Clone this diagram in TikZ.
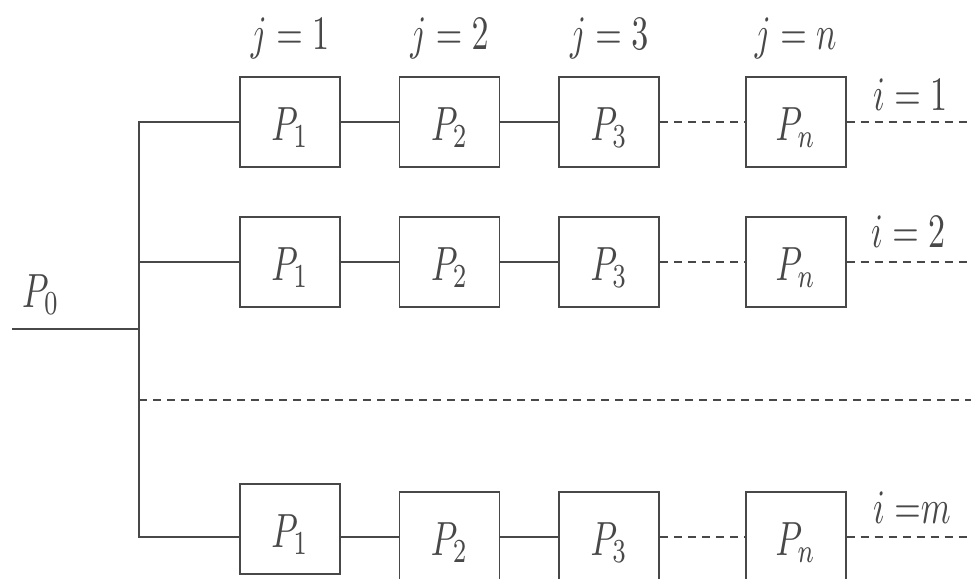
\documentclass[tikz,border=0pt]{standalone}
\usepackage{amsmath}
\usetikzlibrary{positioning}
\definecolor{ink}{RGB}{72,72,72}
\newcommand{\nar}[1]{\scalebox{3.4}[4.8]{#1}}

\begin{document}
\begin{tikzpicture}[x=1pt, y=-1pt,
        box/.style={draw=ink, line width=1.6pt, minimum width=100pt, minimum height=90pt, inner sep=0pt, text=ink, text height=40pt, text depth=4pt},
        lbl/.style={text=ink, inner sep=0pt},
        conn/.style={draw=ink, line width=1.6pt},
        gap/.style={conn, dash pattern=on 8pt off 6pt}]
        \useasboundingbox (0,0) rectangle (971,578);

        % nodes %
        \node[box] (a1) at (290,122) {\nar{$P_1$}};
        \node[box, right=58pt of a1] (a2) {\nar{$P_2$}};
        \node[box, right=58pt of a2] (a3) {\nar{$P_3$}};
        \node[box, right=85pt of a3] (a4) {\nar{$P_n$}};

        \node[box] (b1) at (290,262) {\nar{$P_1$}};
        \node[box, right=58pt of b1] (b2) {\nar{$P_2$}};
        \node[box, right=58pt of b2] (b3) {\nar{$P_3$}};
        \node[box, right=85pt of b3] (b4) {\nar{$P_n$}};

        \node[box] (c1) at (290,529) {\nar{$P_1$}};
        \node[box] (c2) at (449.5,537) {\nar{$P_2$}};
        \node[box, right=58pt of c2] (c3) {\nar{$P_3$}};
        \node[box, right=85pt of c3] (c4) {\nar{$P_n$}};

        % labels %
        \node[lbl, above=17pt of a1] (j1) {\nar{$j = 1$}};
        \node[lbl, above=17pt of a2] (j2) {\nar{$j = 2$}};
        \node[lbl, above=17pt of a3] (j3) {\nar{$j = 3$}};
        \node[lbl, above=17pt of a4] (jn) {\nar{$j = n$}};
        \node[lbl, anchor=base west] (i1) at (873,110) {\nar{$i = 1$}};
        \node[lbl, anchor=base west] (i2) at (871,247) {\nar{$i = 2$}};
        \node[lbl, anchor=base west] (im) at (873,523) {\nar{$i\mskip\thickmuskip{=}m$}};
        \node[lbl, anchor=base west] (p0) at (22,307) {\nar{$P_0$}};

        % coordinates %
        \coordinate (trunk) at (139,0);
        \coordinate (edge) at (971,0);
        \coordinate (start) at (12,329);
        \coordinate (sepL) at (139,400);
        \coordinate (sepR) at (971,400);

        % edges %
        \draw[conn] (start) -- (trunk |- start);
        \draw[conn] (a1.west) -| (trunk |- c2) -- (c1.west |- c2);
        \draw[conn] (b1.west) -- (trunk |- b1);
        \draw[gap] (sepL) -- (sepR);

        \draw[conn] (a1) -- (a2);
        \draw[conn] (a2) -- (a3);
        \draw[gap] (a3) -- (a4);
        \draw[gap] (a4) -- (edge |- a4);

        \draw[conn] (b1) -- (b2);
        \draw[conn] (b2) -- (b3);
        \draw[gap] (b3) -- (b4);
        \draw[gap] (b4) -- (edge |- b4);

        \draw[conn] (c1.east |- c2) -- (c2);
        \draw[conn] (c2) -- (c3);
        \draw[gap] (c3) -- (c4);
        \draw[gap] (c4) -- (edge |- c4);
      \end{tikzpicture}
\end{document}
